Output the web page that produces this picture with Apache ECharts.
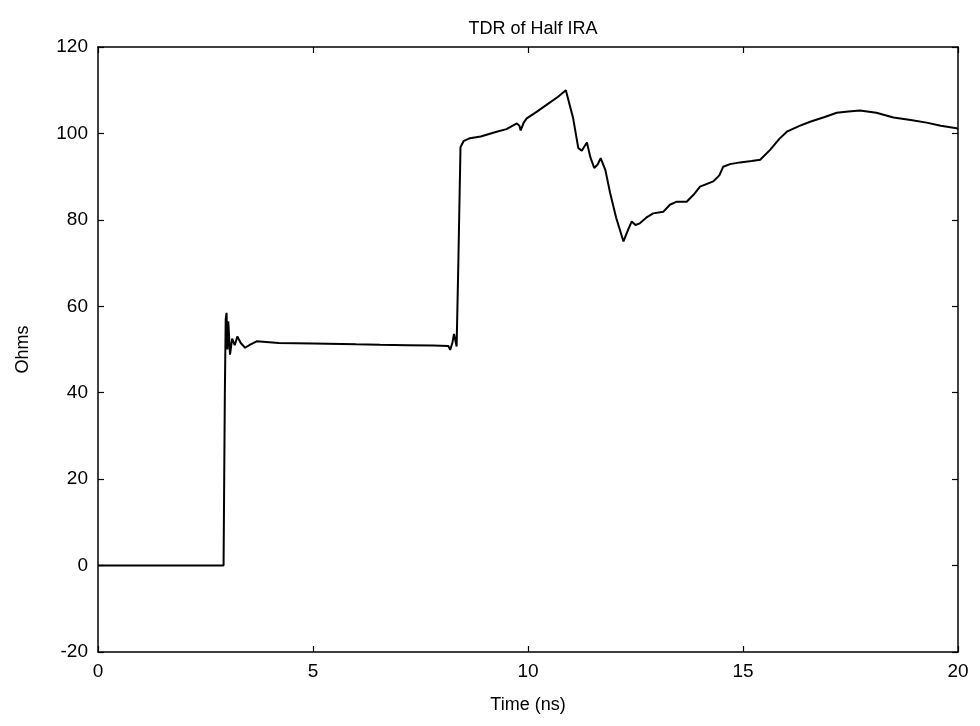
<!DOCTYPE html>
<html>
<head>
<meta charset="utf-8">
<script src="https://cdn.jsdelivr.net/npm/echarts@6/dist/echarts.min.js"></script>
<style>
  html, body { margin: 0; padding: 0; background: #fff; }
  #chart { width: 980px; height: 726px; }
</style>
</head>
<body>
<div id="chart"></div>
<script>
// time axis (ns) and impedance (ohms)
const timeNs = [
  0, 1.5, 2.92, 2.95, 2.97, 2.99, 3.01, 3.03, 3.07, 3.12, 3.18, 3.24, 3.32, 3.42, 3.55, 3.69,
  4.2, 5.0, 6.0, 6.56, 7.2, 7.8, 8.15, 8.19, 8.24, 8.28, 8.34, 8.38, 8.43, 8.5, 8.65,
  8.9, 9.27, 9.5, 9.74, 9.8, 9.83, 9.9, 9.97, 10.2, 10.43, 10.7, 10.88, 10.92,
  11.05, 11.17, 11.25, 11.37, 11.45, 11.54, 11.62, 11.69, 11.8, 11.91, 12.05, 12.22,
  12.32, 12.41, 12.5, 12.6, 12.75, 12.91, 13.15, 13.3, 13.46, 13.69, 13.85, 14.0,
  14.31, 14.45, 14.54, 14.7, 14.93, 15.2, 15.4, 15.63, 15.85, 16.02, 16.3, 16.56,
  16.9, 17.18, 17.45, 17.72, 18.1, 18.5, 18.9, 19.27, 19.6, 19.97, 20
];
const ohms = [
  0, 0, 0, 40, 57, 58.5, 50, 56.5, 48.8, 52.5, 51.0, 53.0, 51.5, 50.4, 51.2, 51.9,
  51.5, 51.4, 51.2, 51.1, 51.0, 50.9, 50.8, 49.9, 51.5, 53.6, 50.7, 70, 96.8, 98.2, 98.9,
  99.3, 100.4, 101.0, 102.3, 101.8, 100.7, 102.5, 103.5, 105.0, 106.6, 108.5, 110.0, 109.6,
  103.5, 96.6, 96.0, 97.9, 94.5, 92.0, 92.8, 94.3, 91.5, 86.2, 80.5, 75.0,
  77.5, 79.6, 78.8, 79.2, 80.5, 81.5, 81.9, 83.5, 84.2, 84.2, 85.8, 87.7,
  88.9, 90.3, 92.3, 92.9, 93.3, 93.6, 93.9, 96.2, 98.8, 100.4, 101.7, 102.7,
  103.8, 104.8, 105.1, 105.3, 104.8, 103.7, 103.1, 102.5, 101.8, 101.2, 101.0
];
const xTicks = [0, 5, 10, 15, 20];
const yTicks = [-20, 0, 20, 40, 60, 80, 100, 120];

const points = timeNs.map((t, i) => [t, ohms[i]]);

const font = 'Liberation Sans, Arial, sans-serif';
const axisLine = { show: true, onZero: false, lineStyle: { color: '#000', width: 1.5 } };
const tick = { show: true, inside: true, length: 6, lineStyle: { color: '#000', width: 1.2 } };

const myChart = echarts.init(document.getElementById('chart'));
const option = {
  animation: false,
  backgroundColor: '#fff',
  title: {
    text: 'TDR of Half IRA',
    left: 528,
    top: 15,
    textAlign: 'center',
    textStyle: { fontFamily: font, fontSize: 18, fontWeight: 'normal', color: '#000' }
  },
  grid: { left: 98, right: 22, top: 47, bottom: 74 },
  xAxis: [{
    type: 'value',
    min: xTicks[0],
    max: xTicks[xTicks.length - 1],
    interval: 5,
    name: 'Time (ns)',
    nameLocation: 'middle',
    nameGap: 44,
    nameTextStyle: { fontFamily: font, fontSize: 18, color: '#000' },
    axisLine: axisLine,
    axisTick: tick,
    splitLine: { show: false },
    axisLabel: { fontFamily: font, fontSize: 19, color: '#000', margin: 10 }
  }, {
    type: 'value',
    position: 'top',
    min: xTicks[0],
    max: xTicks[xTicks.length - 1],
    interval: 5,
    axisLine: axisLine,
    axisTick: tick,
    splitLine: { show: false },
    axisLabel: { show: false }
  }],
  yAxis: [{
    type: 'value',
    min: yTicks[0],
    max: yTicks[yTicks.length - 1],
    interval: 20,
    name: 'Ohms',
    nameLocation: 'middle',
    nameGap: 66,
    nameTextStyle: { fontFamily: font, fontSize: 18, color: '#000' },
    axisLine: axisLine,
    axisTick: tick,
    splitLine: { show: false },
    axisLabel: { fontFamily: font, fontSize: 19, color: '#000', margin: 10 }
  }, {
    type: 'value',
    position: 'right',
    min: yTicks[0],
    max: yTicks[yTicks.length - 1],
    interval: 20,
    axisLine: axisLine,
    axisTick: tick,
    splitLine: { show: false },
    axisLabel: { show: false }
  }],
  series: [{
    type: 'line',
    data: points,
    showSymbol: false,
    lineStyle: { color: '#000', width: 2 },
    xAxisIndex: 0,
    yAxisIndex: 0
  }]
};
myChart.setOption(option);
</script>
</body>
</html>
